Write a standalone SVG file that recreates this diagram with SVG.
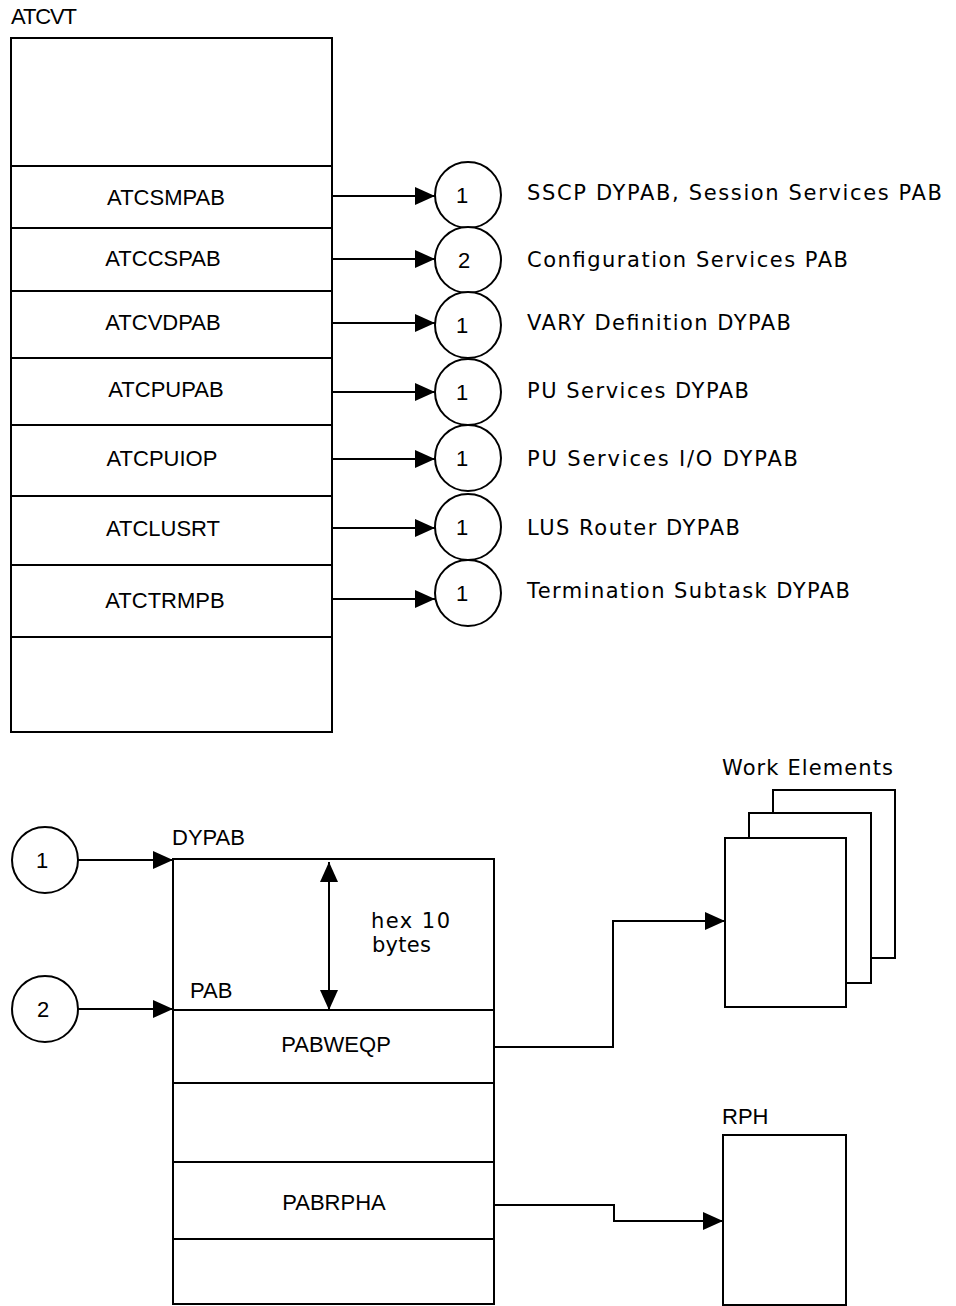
<svg xmlns="http://www.w3.org/2000/svg" width="956" height="1306" viewBox="0 0 956 1306" font-family="Liberation Sans, Arial, sans-serif" font-size="22">
<defs>
<style>
.box{fill:none;stroke:#000;stroke-width:2}
.ln{stroke:#000;stroke-width:2;fill:none}
.c{fill:#fff;stroke:#000;stroke-width:2}
.m{text-anchor:middle}
.w{font-family:"DejaVu Sans",Verdana,sans-serif;font-size:21px}
</style>
<marker id="ah" markerUnits="userSpaceOnUse" markerWidth="20" markerHeight="18" refX="20" refY="9" orient="auto-start-reverse" viewBox="0 0 20 18">
<path d="M0,0 L20,9 L0,18 z" fill="#000"/>
</marker>
</defs>
<rect width="956" height="1306" fill="#fff"/>

<g id="atcvt">
<text x="11" y="24" textLength="66">ATCVT</text>
<rect class="box" x="11" y="38" width="321" height="694"/>
<path class="ln" d="M11,166H332M11,228H332M11,291H332M11,358H332M11,425H332M11,496H332M11,565H332M11,637H332"/>
<text class="m" x="166" y="205">ATCSMPAB</text>
<text class="m" x="163" y="266">ATCCSPAB</text>
<text class="m" x="163" y="330">ATCVDPAB</text>
<text class="m" x="166" y="397">ATCPUPAB</text>
<text class="m" x="162" y="466">ATCPUIOP</text>
<text class="m" x="163" y="536">ATCLUSRT</text>
<text class="m" x="165" y="608">ATCTRMPB</text>
</g>

<g id="connectors">
<path class="ln" marker-end="url(#ah)" d="M332,196H435"/>
<path class="ln" marker-end="url(#ah)" d="M332,259H435"/>
<path class="ln" marker-end="url(#ah)" d="M332,323H435"/>
<path class="ln" marker-end="url(#ah)" d="M332,392H435"/>
<path class="ln" marker-end="url(#ah)" d="M332,459H435"/>
<path class="ln" marker-end="url(#ah)" d="M332,528H435"/>
<path class="ln" marker-end="url(#ah)" d="M332,599H435"/>
<path class="ln" marker-end="url(#ah)" d="M78,860H173"/>
<path class="ln" marker-end="url(#ah)" d="M78,1009H173"/>
<path class="ln" marker-start="url(#ah)" marker-end="url(#ah)" d="M329,862V1010"/>
<path class="ln" marker-end="url(#ah)" d="M494,1047H613V921H725"/>
<path class="ln" marker-end="url(#ah)" d="M494,1205H614V1221H723"/>
</g>

<g id="circles-top">
<circle class="c" cx="468" cy="195" r="33"/><text class="m" x="462" y="203">1</text>
<circle class="c" cx="468" cy="260" r="33"/><text class="m" x="464" y="268">2</text>
<circle class="c" cx="468" cy="325" r="33"/><text class="m" x="462" y="333">1</text>
<circle class="c" cx="468" cy="392" r="33"/><text class="m" x="462" y="400">1</text>
<circle class="c" cx="468" cy="458" r="33"/><text class="m" x="462" y="466">1</text>
<circle class="c" cx="468" cy="527" r="33"/><text class="m" x="462" y="535">1</text>
<circle class="c" cx="468" cy="593" r="33"/><text class="m" x="462" y="601">1</text>
</g>

<g id="labels">
<text class="w" x="527" y="200" textLength="415">SSCP DYPAB, Session Services PAB</text>
<text class="w" x="527" y="267" textLength="321">Configuration Services PAB</text>
<text class="w" x="527" y="330" textLength="264">VARY Definition DYPAB</text>
<text class="w" x="527" y="398" textLength="222">PU Services DYPAB</text>
<text class="w" x="527" y="466" textLength="271">PU Services I/O DYPAB</text>
<text class="w" x="527" y="535" textLength="213">LUS Router DYPAB</text>
<text class="w" x="527" y="598" textLength="323">Termination Subtask DYPAB</text>
</g>

<g id="circles-bottom">
<circle class="c" cx="45" cy="860" r="33"/><text class="m" x="42" y="868">1</text>
<circle class="c" cx="45" cy="1009" r="33"/><text class="m" x="43" y="1017">2</text>
</g>

<g id="dypab">
<text x="172" y="845">DYPAB</text>
<text x="190" y="998">PAB</text>
<rect class="box" x="173" y="859" width="321" height="445"/>
<path class="ln" d="M173,1010H494M173,1083H494M173,1162H494M173,1239H494"/>
<text class="w" x="371" y="928" textLength="79">hex 10</text>
<text class="w" x="372" y="952" textLength="59">bytes</text>
<text class="m" x="336" y="1052">PABWEQP</text>
<text class="m" x="334" y="1210">PABRPHA</text>
</g>

<g id="work-elements">
<text class="w" x="722" y="775" textLength="171">Work Elements</text>
<rect class="box" x="773" y="790" width="122" height="168"/>
<rect class="c" x="749" y="813" width="122" height="170"/>
<rect class="c" x="725" y="838" width="121" height="169"/>
</g>

<g id="rph">
<text x="722" y="1124">RPH</text>
<rect class="box" x="723" y="1135" width="123" height="170"/>
</g>
</svg>
